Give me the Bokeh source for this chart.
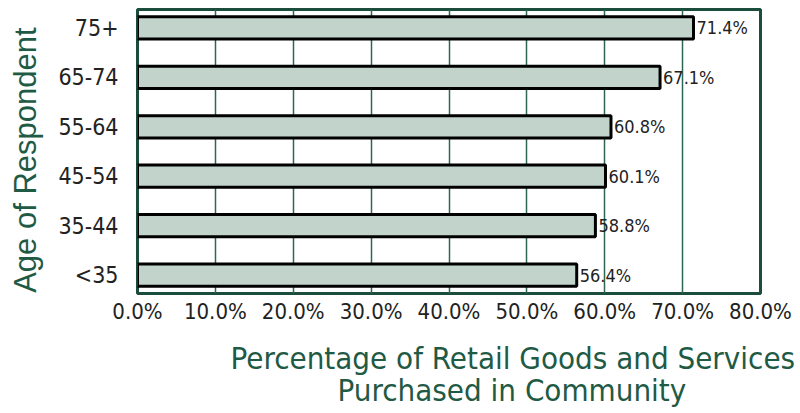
from bokeh.plotting import figure
from bokeh.models import ColumnDataSource, FixedTicker, PrintfTickFormatter, Range1d, Title
from bokeh.core.properties import value
from bokeh.embed import file_html
from bokeh.resources import INLINE

categories = ["<35", "35-44", "45-54", "55-64", "65-74", "75+"]
percentages = [56.4, 58.8, 60.1, 60.8, 67.1, 71.4]
x_ticks = [0, 10, 20, 30, 40, 50, 60, 70, 80]
value_labels = ["56.4%", "58.8%", "60.1%", "60.8%", "67.1%", "71.4%"]

GREEN = "#1f5a45"
COND = "DejaVu Sans Condensed"

ypos = list(range(len(categories)))
src = ColumnDataSource(dict(y=ypos, v=percentages, lab=value_labels))

p = figure(width=800, height=413, output_backend="svg", toolbar_location=None,
           x_range=Range1d(0, 80), y_range=Range1d(-0.37, 5.37),
           min_border_left=137, min_border_right=40, min_border_top=9, min_border_bottom=120)

p.hbar(y="y", right="v", left=0, height=0.45, source=src,
       fill_color="#c2d3cc", line_color="black", line_width=3)
p.text(x="v", y="y", text="lab", source=src, x_offset=3,
       text_baseline="middle", text_align="left",
       text_font=value(COND), text_font_size="18px", text_color="#222222")

p.outline_line_color = "#1c4d3c"
p.outline_line_width = 3
p.outline_line_alpha = 1

p.xaxis.ticker = FixedTicker(ticks=x_ticks)
p.xaxis.formatter = PrintfTickFormatter(format="%.1f%%")
p.xaxis.axis_line_color = None
p.xaxis.major_tick_line_color = None
p.xaxis.minor_tick_line_color = None
p.xaxis.major_tick_out = 0
p.xaxis.major_label_standoff = 5
p.xaxis.major_label_text_font = COND
p.xaxis.major_label_text_font_size = "22px"
p.xaxis.major_label_text_color = "#222222"

p.yaxis.ticker = FixedTicker(ticks=ypos)
p.yaxis.major_label_overrides = {i: c for i, c in enumerate(categories)}
p.yaxis.axis_line_color = None
p.yaxis.major_tick_line_color = None
p.yaxis.minor_tick_line_color = None
p.yaxis.major_label_standoff = 13
p.yaxis.major_label_text_font = COND
p.yaxis.major_label_text_font_size = "23px"
p.yaxis.major_label_text_color = "#222222"
p.yaxis.axis_label = "Age of Respondent  "
p.yaxis.axis_label_text_font = "Liberation Sans"
p.yaxis.axis_label_text_font_style = "normal"
p.yaxis.axis_label_text_font_size = "31px"
p.yaxis.axis_label_text_color = GREEN
p.yaxis.axis_label_standoff = 12

p.xgrid.ticker = FixedTicker(ticks=x_ticks)
p.xgrid.grid_line_color = "#2d6652"
p.xgrid.grid_line_width = 1.5
p.ygrid.grid_line_color = None

title_lines = ["Percentage of Retail Goods and Services", "Purchased in Community"]
title_offsets = [93, 200]
title_standoffs = [24, -36]
for t, off, so in zip(title_lines, title_offsets, title_standoffs):
    p.add_layout(Title(text=t, align="left", offset=off, vertical_align="middle",
                       text_font=COND, text_font_size="31px", text_font_style="normal",
                       text_color=GREEN, standoff=so), "below")

open("out.html", "w").write(file_html(p, INLINE))
